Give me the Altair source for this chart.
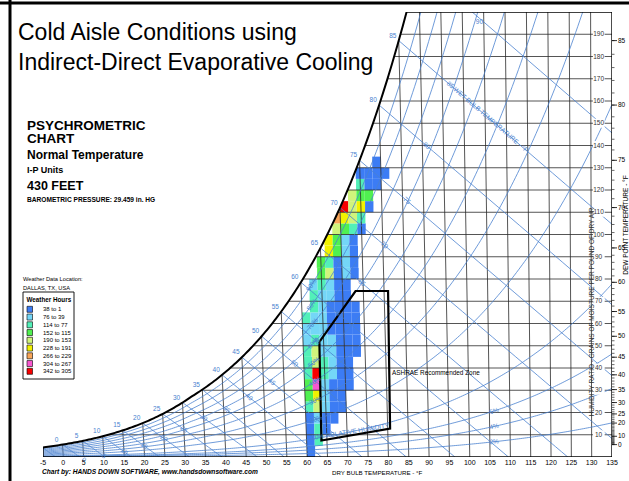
import altair as alt
import numpy as np
import pandas as pd

FONT = "Liberation Sans"
OX, OY = 43, 12          # plot origin inside the page
PW, PH = 569, 445        # plot area

# ---------------- values ----------------
TITLE_LINES = ["Cold Aisle Conditions using", "Indirect-Direct Evaporative Cooling"]
DRY_BULB_TICKS = list(range(-5, 140, 5))
GRAIN_LABELS = list(range(10, 200, 10))
DEW_POINT_LABELS = [85, 80, 75, 70, 65, 60, 55, 50, 45, 40, 35, 30, 25, 20, 10, 0]
SAT_LABELS = list(range(0, 90, 5))
WB_LINES = list(range(-5, 95, 5))
WB_MID_LABELS = list(range(0, 85, 5))
RH_CURVES = [2, 4, 6, 10, 20, 30, 40, 50, 60, 70, 80, 90]
RH_LABELS_LOW = [20, 30, 40, 50, 60, 70, 80, 90]
RH_LABELS_DRY = [2, 4, 6]
HOUR_CLASSES = ["38 to 1", "76 to 39", "114 to 77", "152 to 115", "190 to 153",
                "228 to 191", "266 to 229", "304 to 267", "342 to 305"]
CLASS_COLORS = ["#3c7cf4", "#74d6f7", "#52f0b8", "#50f050", "#d0f47c",
                "#f2f200", "#f8a558", "#f858d0", "#f80000"]
# ASHRAE recommended zone outline (dry bulb on chart scale, grains)
ZONE_DB = [63.0, 71.9, 79.9, 80.4, 63.5, 63.0]
ZONE_GR = [51.7, 74.6, 74.6, 12.8, 7.4, 51.7]
# weather-hour cells: grains bin start -> [(dry-bulb bin start, class index)]
CELL_ROWS = {
    0: [(60, 0)],
    5: [(60, 0), (62, 2)],
    10: [(60, 0), (62, 2), (64, 0)],
    15: [(60, 0), (62, 1), (64, 0), (66, 0)],
    20: [(60, 2), (62, 4), (64, 1), (66, 0), (68, 0)],
    25: [(60, 3), (62, 5), (64, 1), (66, 0), (68, 0)],
    30: [(60, 3), (62, 7), (64, 1), (66, 0), (68, 0), (70, 0)],
    35: [(60, 2), (62, 8), (64, 2), (66, 1), (68, 0), (70, 0)],
    40: [(60, 2), (62, 4), (64, 2), (66, 1), (68, 0), (70, 0)],
    45: [(60, 2), (62, 4), (64, 1), (66, 1), (68, 0), (70, 0), (72, 0)],
    50: [(60, 1), (62, 2), (64, 1), (66, 1), (68, 0), (70, 0), (72, 0)],
    55: [(60, 1), (62, 1), (64, 1), (66, 0), (68, 0), (70, 0), (72, 0)],
    60: [(60, 2), (62, 1), (64, 1), (66, 0), (68, 0), (70, 0), (72, 0)],
    65: [(62, 2), (64, 1), (66, 0), (68, 0), (70, 0), (72, 0)],
    70: [(62, 2), (64, 1), (66, 1), (68, 0), (70, 0)],
    75: [(62, 1), (64, 2), (66, 1), (68, 0), (70, 0)],
    80: [(64, 3), (66, 4), (68, 0), (70, 1), (72, 0)],
    85: [(64, 3), (66, 2), (68, 0), (70, 1), (72, 0)],
    90: [(66, 5), (68, 3), (70, 1), (72, 0)],
    95: [(66, 5), (68, 3), (70, 1), (72, 0)],
    100: [(68, 4), (70, 3), (72, 2), (74, 0)],
    105: [(68, 6), (70, 5), (72, 4), (74, 2)],
    110: [(70, 8), (72, 4), (74, 5), (76, 0)],
    115: [(72, 4), (74, 3), (76, 3)],
    120: [(74, 2), (76, 0), (78, 0)],
    125: [(74, 0), (76, 0), (78, 0), (80, 0)],
    130: [(78, 0)],
}

# ---------------- psychrometric construction (430 ft) ----------------
P = 29.459 * 3.386389  # kPa


def pws(tf):
    tc = (np.asarray(tf, dtype=float) - 32.0) / 1.8
    water = 0.61121 * np.exp((18.678 - tc / 234.5) * (tc / (257.14 + tc)))
    ice = 0.61115 * np.exp((23.036 - tc / 333.7) * (tc / (279.82 + tc)))
    return np.where(tc >= 0, water, ice)


def w_gr(tf, rh=1.0):
    pw = rh * pws(tf)
    return 7000 * 0.621945 * pw / (P - pw)


LEAN = 0.444 / 0.24 / 7000


def cx(tf, w):
    tf = np.asarray(tf, dtype=float)
    return tf + LEAN * (tf - 135.0) * np.asarray(w, dtype=float)


TT = np.arange(-5, 100.0001, 0.01)
WW = w_gr(TT)


def t_sat(w):
    return np.interp(w, WW, TT)


def wb_w(twb, t):
    ws = float(w_gr(twb)) / 7000
    if twb >= 32:
        w = ((1093 - 0.556 * twb) * ws - 0.240 * (t - twb)) / (1093 + 0.444 * t - twb)
    else:
        w = ((1220 - 0.04 * twb) * ws - 0.240 * (t - twb)) / (1220 + 0.444 * t - 0.48 * twb)
    return w * 7000


def wb_end(twb):
    ws = float(w_gr(twb)) / 7000
    k = (1093 - 0.556 * twb) if twb >= 32 else (1220 - 0.04 * twb)
    return twb + k * ws / 0.240


XS = alt.Scale(domain=[-5, 135], nice=False, zero=False)
YS = alt.Scale(domain=[0, 200], nice=False, zero=False)


def lines_df(items):
    rows = []
    for g, (xs, ws) in enumerate(items):
        for i, (x, w) in enumerate(zip(xs, ws)):
            rows.append({"g": g, "o": i, "x": float(x), "w": float(w)})
    return pd.DataFrame(rows)


def line_layer(df, color, width):
    return alt.Chart(df).mark_line(color=color, strokeWidth=width, clip=True).encode(
        x=alt.X("x:Q", scale=XS, axis=None), y=alt.Y("w:Q", scale=YS, axis=None),
        detail="g:N", order="o:Q")


def text_layer(df, color, size, **kw):
    enc = dict(x=alt.X("x:Q", scale=XS, axis=None), y=alt.Y("w:Q", scale=YS, axis=None), text="t:N")
    if "a" in df.columns:
        enc["angle"] = alt.Angle("a:Q", scale=None)
    return alt.Chart(df).mark_text(color=color, fontSize=size, font=FONT, **kw).encode(**enc)


def slope_angle(x0, w0, x1, w1):
    dx = (x1 - x0) * PW / 140.0
    dy = (w1 - w0) * PH / 200.0
    return float(np.degrees(np.arctan2(-dy, dx)) % 360)


BLUE = "#4a82cf"
GRID = "#2a2a2a"

# cells
cell_rows = []
for w0, cells in CELL_ROWS.items():
    for t0, c in cells:
        wm = w0 + 2.5
        cell_rows.append({"x0": float(cx(t0, wm)), "x1": float(cx(t0 + 2, wm)),
                          "w0": w0, "w1": w0 + 5, "cls": HOUR_CLASSES[c]})
cells_df = pd.DataFrame(cell_rows)
cells = alt.Chart(cells_df).mark_rect().encode(
    x=alt.X("x0:Q", scale=XS, axis=None), x2="x1:Q",
    y=alt.Y("w0:Q", scale=YS, axis=None), y2="w1:Q",
    color=alt.Color("cls:N", scale=alt.Scale(domain=HOUR_CLASSES, range=CLASS_COLORS), legend=None))

# white mask left of / above the saturation curve
mw = np.linspace(float(w_gr(-5)), 200, 200)
mask_df = pd.DataFrame({"w": mw, "x": cx(t_sat(mw), mw), "x0": -5.0})
mask = alt.Chart(mask_df).mark_area(orient="horizontal", color="white").encode(
    y=alt.Y("w:Q", scale=YS, axis=None), x=alt.X("x:Q", scale=XS, axis=None), x2="x0:Q")

# grid: dry-bulb lines and humidity lines
db_items = []
for t in DRY_BULB_TICKS[1:-1]:
    wt = min(float(w_gr(t)), 200.0)
    db_items.append(([cx(t, 0), cx(t, wt)], [0, wt]))
for w in range(10, 200, 10):
    db_items.append(([cx(t_sat(w), w), 135.0], [w, w]))
grid = line_layer(lines_df(db_items), GRID, 0.8)

# relative humidity curves
rh_items = []
tt = np.arange(-5, 135.5, 0.5)
for rh in RH_CURVES:
    ww = w_gr(tt, rh / 100)
    keep = ww <= 215
    rh_items.append((cx(tt[keep], ww[keep]), ww[keep]))
rh_layer = line_layer(lines_df(rh_items), BLUE, 0.8)

# wet-bulb lines
wb_items = []
for twb in WB_LINES:
    te = wb_end(twb)
    ts = np.linspace(twb, te, 40)
    ws = np.array([wb_w(twb, t) for t in ts])
    ws[-1] = 0.0
    wb_items.append((cx(ts, ws), ws))
wb_layer = line_layer(lines_df(wb_items), BLUE, 0.8)

# saturation curve and frame
ts = np.linspace(-5, float(t_sat(200)), 200)
sat_layer = line_layer(lines_df([(cx(ts, w_gr(ts)), w_gr(ts))]), "black", 2.0)
frame_items = [
    ([cx(t_sat(200), 200), 135], [200, 200]),
    ([135, 135], [0, 200]),
    ([-5, 135], [0, 0]),
    ([-5, -5], [0, float(w_gr(-5))]),
]
frame = line_layer(lines_df(frame_items), "black", 1.4)

zone = alt.Chart(pd.DataFrame({"x": ZONE_DB, "w": ZONE_GR, "o": range(len(ZONE_DB))})).mark_line(
    color="black", strokeWidth=2.2).encode(
    x=alt.X("x:Q", scale=XS, axis=None), y=alt.Y("w:Q", scale=YS, axis=None), order="o:Q")

# labels on the chart
sat_lab = pd.DataFrame([{"x": float(cx(t, w_gr(t))), "w": float(w_gr(t)), "t": str(t)} for t in SAT_LABELS])
sat_text = text_layer(sat_lab, BLUE, 6.5, dx=-6, dy=-5)

wb_rows = []
for twb in WB_MID_LABELS:
    dt = float(np.clip(5 + (twb - 30) * 6 / 45, 5, 11))
    t = twb + dt
    w = wb_w(twb, t)
    a = slope_angle(cx(t - 1, wb_w(twb, t - 1)), wb_w(twb, t - 1), cx(t + 1, wb_w(twb, t + 1)), wb_w(twb, t + 1))
    wb_rows.append({"x": float(cx(t, w)), "w": w, "t": str(twb), "a": a})
t = 105.5
a85 = slope_angle(cx(t - 1, wb_w(85, t - 1)), wb_w(85, t - 1), cx(t + 1, wb_w(85, t + 1)), wb_w(85, t + 1))
wb_rows.append({"x": float(cx(t, wb_w(85, t))), "w": wb_w(85, t), "t": "85 WET BULB TEMPERATURE - °F", "a": a85})
t90 = 104.0
wb_rows.append({"x": float(cx(t90, wb_w(90, t90))), "w": wb_w(90, t90) - 1.5, "t": "90", "a": 0.0})
wb_text = text_layer(pd.DataFrame(wb_rows), BLUE, 6.5, baseline="middle")

rh_rows = []
for rh in RH_LABELS_LOW:
    t = 62.5
    w = float(w_gr(t, rh / 100))
    a = slope_angle(cx(t - 1, w_gr(t - 1, rh / 100)), float(w_gr(t - 1, rh / 100)),
                    cx(t + 1, w_gr(t + 1, rh / 100)), float(w_gr(t + 1, rh / 100)))
    rh_rows.append({"x": float(cx(t, w)), "w": w, "t": f"{rh}%", "a": a})
for rh in RH_LABELS_DRY:
    t = 106
    w = float(w_gr(t, rh / 100))
    a = slope_angle(t - 1, float(w_gr(t - 1, rh / 100)), t + 1, float(w_gr(t + 1, rh / 100)))
    rh_rows.append({"x": t, "w": w, "t": f"{rh}%", "a": a})
rh_text = text_layer(pd.DataFrame(rh_rows), BLUE, 6.5, baseline="middle")
t10 = np.array([61.0, 63.0])
w10 = w_gr(t10, 0.10)
rh10 = pd.DataFrame([{"x": 61.0, "w": float(w10[0]) + 0.5, "t": "10% RELATIVE HUMIDITY",
                      "a": slope_angle(61, w10[0], 63, w10[1])}])
rh10_text = text_layer(rh10, BLUE, 6.5, align="left", baseline="middle")

# humidity ratio labels with white boxes
g_df = pd.DataFrame({"w": GRAIN_LABELS, "t": [str(g) for g in GRAIN_LABELS], "x": 131.7,
                     "xa": 130.3, "xb": 133.2})
g_df["wa"] = g_df["w"] - 2.0
g_df["wb"] = g_df["w"] + 2.0
g_box = alt.Chart(g_df).mark_rect(color="white").encode(
    x=alt.X("xa:Q", scale=XS, axis=None), x2="xb:Q", y=alt.Y("wa:Q", scale=YS, axis=None), y2="wb:Q")
g_text = text_layer(g_df[["x", "w", "t"]], "#333333", 6.5, baseline="middle")

# bottom dry-bulb labels
db_df = pd.DataFrame({"x": DRY_BULB_TICKS, "w": 0.0, "t": [str(t) for t in DRY_BULB_TICKS]})
db_text = text_layer(db_df, "black", 7, baseline="top", dy=1.5)

# dew point scale on the right
dp_all = pd.DataFrame({"w": w_gr(np.arange(0, 86))})
dp_major = pd.DataFrame({"w": w_gr(np.array(DEW_POINT_LABELS)), "t": [str(d) for d in DEW_POINT_LABELS]})
dp_minor_ticks = alt.Chart(dp_all).mark_rule(color="black", strokeWidth=0.6).encode(
    y=alt.Y("w:Q", scale=YS, axis=None), x=alt.value(PW), x2=alt.value(PW + 2.5))
dp_major_ticks = alt.Chart(dp_major).mark_rule(color="black", strokeWidth=0.8).encode(
    y=alt.Y("w:Q", scale=YS, axis=None), x=alt.value(PW), x2=alt.value(PW + 5))
dp_text = alt.Chart(dp_major).mark_text(color="black", fontSize=6.5, font=FONT, align="left",
                                        baseline="middle").encode(
    y=alt.Y("w:Q", scale=YS, axis=None), x=alt.value(PW + 6), text="t:N")

ONE = pd.DataFrame({"z": [0]})


def page_text(txt, px, py, size, weight="normal", style="normal", align="left",
              baseline="alphabetic", angle=0, color="black"):
    kw = dict(text=txt, fontSize=size, fontWeight=weight, fontStyle=style, align=align,
              baseline=baseline, color=color, font=FONT)
    if angle:
        kw["angle"] = angle
    return alt.Chart(ONE).mark_text(**kw).encode(x=alt.value(px - OX), y=alt.value(py - OY))


def page_rect(x1, y1, x2, y2, fill, stroke=None, sw=0.8):
    kw = dict(fill=fill)
    if stroke:
        kw.update(stroke=stroke, strokeWidth=sw)
    return alt.Chart(ONE).mark_rect(**kw).encode(
        x=alt.value(x1 - OX), y=alt.value(y1 - OY), x2=alt.value(x2 - OX), y2=alt.value(y2 - OY))


def page_rule(x1, y1, x2, y2, w):
    return alt.Chart(ONE).mark_rule(color="black", strokeWidth=w).encode(
        x=alt.value(x1 - OX), y=alt.value(y1 - OY), x2=alt.value(x2 - OX), y2=alt.value(y2 - OY))


# legend (drawn from the class arrays)
legend = [page_rect(23, 292, 74, 379, "white", "black", 0.9),
          page_text("Weather Hours", 26.5, 300, 6.3, weight="bold", baseline="middle")]
for i, (lab, col) in enumerate(zip(HOUR_CLASSES, CLASS_COLORS)):
    yc = 309.3 + i * 7.75
    legend.append(page_rect(27, yc - 3, 32.5, yc + 3, col, "black", 0.6))
    legend.append(page_text(lab, 43, yc, 6, baseline="middle"))

texts = [
    page_text(TITLE_LINES[0], 18, 40, 23),
    page_text(TITLE_LINES[1], 18, 69.5, 23),
    page_text("PSYCHROMETRIC", 27, 130, 13.5, weight="bold"),
    page_text("CHART", 27, 142.5, 13.5, weight="bold"),
    page_text("Normal Temperature", 27, 158.5, 12, weight="bold"),
    page_text("I-P Units", 27, 172.5, 9, weight="bold"),
    page_text("430 FEET", 27, 189.5, 12.5, weight="bold"),
    page_text("BAROMETRIC PRESSURE: 29.459 in. HG", 27, 202, 6.6, weight="bold"),
    page_text("Weather Data Location:", 23, 280.5, 5.7),
    page_text("DALLAS, TX, USA", 23, 289.5, 5.7),
    page_text("Chart by: HANDS DOWN SOFTWARE, www.handsdownsoftware.com", 42, 474, 6.6,
              weight="bold", style="italic"),
    page_text("DRY BULB TEMPERATURE - °F", 332, 474.5, 6.2),
    page_text("ASHRAE Recommended Zone", 392, 373, 6.4, baseline="middle"),
    page_text("HUMIDITY RATIO - GRAINS OF MOISTURE PER POUND OF DRY AIR", 592, 312, 6.5,
              align="center", baseline="middle", angle=270, color="#333333"),
    page_text("DEW POINT TEMPERATURE - °F", 626, 225, 6.5, align="center", baseline="middle", angle=270),
]
borders = [page_rule(0, 3, 629, 3, 3), page_rule(10, 0, 10, 481, 3)]

chart = alt.layer(
    cells, mask, grid, rh_layer, wb_layer, frame, sat_layer, zone,
    sat_text, wb_text, rh_text, rh10_text, g_box, g_text, db_text,
    dp_minor_ticks, dp_major_ticks, dp_text, *legend, *texts, *borders
).properties(
    width=PW, height=PH,
    padding={"left": OX, "top": OY, "right": 629 - OX - PW, "bottom": 481 - OY - PH},
    autosize=alt.AutoSizeParams(type="none"),
).configure_view(stroke=None)

chart.save("out.html", embed_options={"renderer": "svg", "actions": False})
